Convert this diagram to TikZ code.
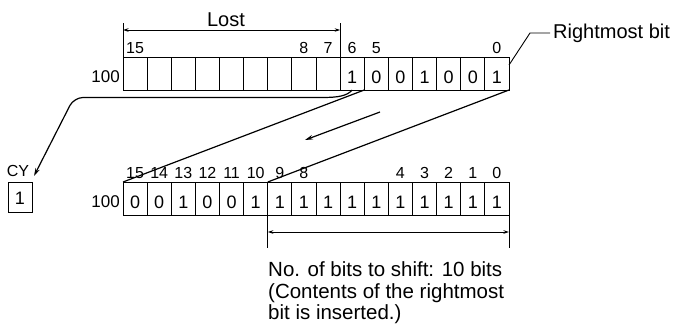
\documentclass[tikz,border=0pt]{standalone}
\usepackage{fontspec}
\setmainfont{Liberation Sans}
\usetikzlibrary{arrows.meta,calc}
\begin{document}
\begin{tikzpicture}[x=1pt,y=-1pt,
  cell/.style={draw, line width=0.9pt, minimum width=24.125pt, minimum height=33pt, inner sep=0pt, outer sep=0pt},
  val/.style={inner sep=0pt, font=\fontsize{18}{18}\selectfont},
  num/.style={inner sep=0pt, font=\fontsize{16}{16}\selectfont},
  lbl/.style={inner sep=0pt, font=\fontsize{17}{17}\selectfont},
  big/.style={inner sep=0pt, font=\fontsize{20}{21}\selectfont},
  conn/.style={line width=1.2pt},
  dimline/.style={line width=0.8pt},
  dimarrow/.style={line width=0.8pt, {Stealth[length=5.5pt,width=3.5pt]}-{Stealth[length=5.5pt,width=3.5pt]}},
  tip/.style={-{Stealth[length=8pt,width=4.5pt]}}
]
\useasboundingbox (0,0) rectangle (682,327);
\def\W{24.125}
% registers
\foreach \k in {0,...,15} {
  \node[cell] (t\k) at ({123+(15.5-\k)*\W},73.5) {};
  \node[cell] (b\k) at ({123+(15.5-\k)*\W},198.5) {};
}
% top values
\foreach \k/\v in {6/1,5/0,4/0,3/1,2/0,1/0,0/1}
  \node[val, anchor=base] (tv\k) at ($(t\k.south)+(0,-6.5)$) {\v};
% bottom values
\foreach \k/\v in {15/0,14/0,13/1,12/0,11/0,10/1,9/1,8/1,7/1,6/1,5/1,4/1,3/1,2/1,1/1,0/1}
  \node[val, anchor=base] (bv\k) at ($(b\k.south)+(0,-7)$) {\v};
% bit numbers
\foreach \k in {15,8,7,6,5,0}
  \node[num, anchor=base] (tn\k) at ($(t\k.north)+(0,-4)$) {\k};
\foreach \k in {15,14,13,12,11,10,9,8,4,3,2,1,0}
  \node[num, anchor=base] (bn\k) at ($(b\k.north)+(0,-4)$) {\k};
% register names
\node[lbl, anchor=base east] (r1) at ($(t15.west)+(-3,8.5)$) {100};
\node[lbl, anchor=base east] (r2) at ($(b15.west)+(-3,8.5)$) {100};
% CY
\node[draw, line width=0.9pt, minimum width=24pt, minimum height=30pt, inner sep=0pt] (cy) at (20,197) {};
\node[val, anchor=base] (cyv) at ($(cy.south)+(0,-8)$) {1};
\node[num, anchor=base west] (cyl) at ($(cy.north west)+(-1,-5)$) {CY};
\coordinate (cytip) at (34,176);
% Lost dimension
\coordinate (l1) at ($(t15.north west)+(0,-34)$);
\coordinate (l2) at ($(t7.north east)+(0,-34)$);
\draw[dimline] (t15.north west) -- (l1);
\draw[dimline] (t7.north east) -- (l2);
\draw[dimarrow] ($(t15.north west)+(0,-27)$) -- ($(t7.north east)+(0,-27)$);
\node[big, anchor=base] (lost) at (226,26) {Lost};
% Rightmost bit
\coordinate (rbA) at ($(t0.north east)+(0,8)$);
\coordinate (rbB) at (530,33);
\node[big, anchor=west, inner sep=3pt] (rb) at (550,33) {Rightmost bit};
\draw[line width=0.9pt] (rbA) -- (rbB) -- (rb.west);
% connectors
\draw[conn, tip] (t6.south) .. controls (347,96) and (338,97.5) .. (322,97.5) [rounded corners=9pt] -- (74,97.5) -- (cytip);
\draw[conn] (t6.south east) -- (b15.north west);
\draw[conn] (t0.south east) -- (b9.north west);
\coordinate (ma) at (380,112);
\coordinate (mb) at (305,140);
\draw[conn, tip] (ma) -- (mb);
% bottom dimension
\coordinate (d1) at ($(b9.south west)+(0,33)$);
\coordinate (d2) at ($(b0.south east)+(0,33)$);
\draw[dimline] (b9.south west) -- (d1);
\draw[dimline] (b0.south east) -- (d2);
\draw[dimarrow] ($(b9.south west)+(0,17)$) -- ($(b0.south east)+(0,17)$);
\node[big, anchor=north west, align=left, font=\fontsize{20.5}{21.5}\selectfont] (note) at (268,261.5) {No. of bits to shift: 10 bits\\(Contents of the rightmost\\bit is inserted.)};
\end{tikzpicture}
\end{document}
